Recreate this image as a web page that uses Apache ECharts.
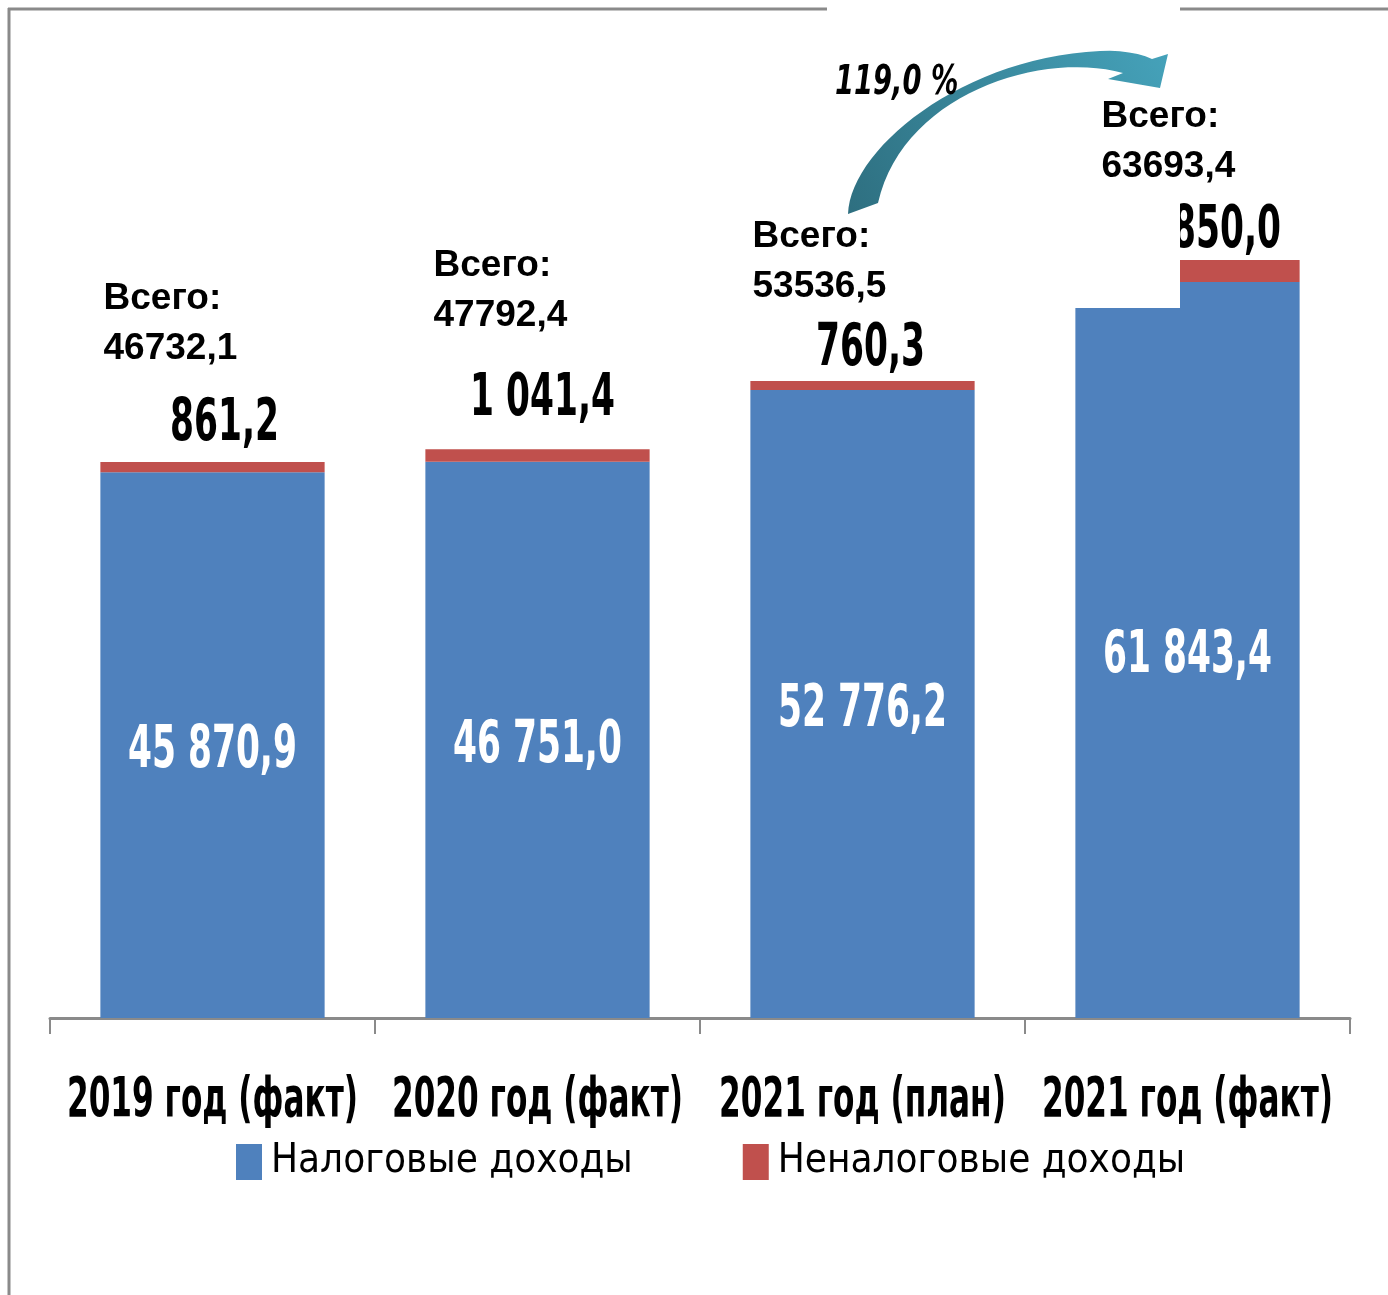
<!DOCTYPE html>
<html>
<head>
<meta charset="utf-8">
<script src="https://cdn.jsdelivr.net/npm/echarts@6/dist/echarts.min.js"></script>
<style>
  html, body { margin: 0; padding: 0; background: #fff; }
  #chart { width: 1388px; height: 1295px; }
</style>
</head>
<body>
<div id="chart"></div>
<script>
// данные
const categories = ['2019 год (факт)', '2020 год (факт)', '2021 год (план)', '2021 год (факт)'];
const taxIncome = [45870.9, 46751.0, 52776.2, 61843.4];
const nonTaxIncome = [861.2, 1041.4, 760.3, 1850.0];
const totals = [46732.1, 47792.4, 53536.5, 63693.4];
const growthText = '119,0 %';

// сдвиги подписей (только раскладка)
const redLabelShift = [[12, -37], [5, -49], [8, -31], [21, -28]];
const totalLabelShift = [[-109, -88], [-104, -108], [-110, -69], [-86, -68]];

const cond = "'DejaVu Sans Condensed', 'DejaVu Sans', sans-serif";
const fmt = v => {
  let s = v.toFixed(1).split('.');
  let int = s[0].replace(/\B(?=(\d{3})+(?!\d))/g, ' ');
  return int + ',' + s[1];
};

// контур изогнутой стрелки (декор)
function cubic(p0, p1, p2, p3, n) {
  let pts = [];
  for (let i = 0; i <= n; i++) {
    let t = i / n, u = 1 - t;
    pts.push([
      u * u * u * p0[0] + 3 * u * u * t * p1[0] + 3 * u * t * t * p2[0] + t * t * t * p3[0],
      u * u * u * p0[1] + 3 * u * u * t * p1[1] + 3 * u * t * t * p2[1] + t * t * t * p3[1]
    ]);
  }
  return pts;
}
const arrowPoints = [].concat(
  cubic([848, 214], [850, 150], [960, 58], [1100, 51], 30),
  cubic([1100, 51], [1120, 50], [1140, 53], [1152, 59], 6),
  [[1168, 54], [1160, 88], [1108, 79]],
  cubic([1123, 73], [1040, 50], [902, 95], [878, 203], 30)
);

// сжатый по ширине текст, как в исходной диаграмме
function squeezed(x, y, text, size, weight, sx, fill) {
  return {
    type: 'text',
    x: x,
    y: y,
    scaleX: sx,
    style: {
      text: text,
      fill: fill || '#000',
      fontFamily: cond,
      fontWeight: weight,
      fontSize: size,
      align: 'center',
      verticalAlign: 'middle'
    }
  };
}

let myChart = echarts.init(document.getElementById('chart'));

const options = {
  animation: false,
  backgroundColor: '#fff',
  grid: { left: 50, right: 38, top: 185, bottom: 277 },
  legend: {
    data: ['Налоговые доходы', 'Неналоговые доходы'],
    left: 231,
    top: 1137,
    itemWidth: 26,
    itemHeight: 36,
    itemGap: 110,
    icon: 'rect',
    textStyle: { fontFamily: cond, fontSize: 40, color: '#000', padding: [0, 0, 0, 4] }
  },
  xAxis: {
    type: 'category',
    data: categories,
    axisLine: { lineStyle: { color: '#8a8a8a', width: 3 } },
    axisTick: { show: true, length: 16, lineStyle: { color: '#8a8a8a', width: 2 } },
    axisLabel: { show: false }
  },
  yAxis: {
    type: 'value',
    min: 0,
    max: 70000,
    show: false,
    splitLine: { show: false }
  },
  series: [
    {
      name: 'Налоговые доходы',
      type: 'bar',
      stack: 'all',
      barWidth: '69%',
      z: 2,
      itemStyle: { color: '#4F81BD' },
      data: taxIncome
    },
    {
      name: 'Неналоговые доходы',
      type: 'bar',
      stack: 'all',
      barWidth: '69%',
      z: 2,
      itemStyle: { color: '#C0504D' },
      data: nonTaxIncome
    },
    {
      // подписи налоговых доходов внутри столбцов
      type: 'custom',
      z: 4,
      clip: false,
      silent: true,
      data: taxIncome.map((v, i) => [i, v]),
      renderItem: (params, api) => {
        let pt = api.coord([api.value(0), api.value(1) / 2]);
        return squeezed(pt[0], pt[1] + 7, fmt(api.value(1)), 58, 'bold', 0.66, '#fff');
      }
    },
    {
      // подписи неналоговых доходов над столбцами
      type: 'custom',
      z: 2,
      clip: false,
      silent: true,
      data: nonTaxIncome.map((v, i) => [i, taxIncome[i] + v, v]),
      renderItem: (params, api) => {
        let i = params.dataIndex;
        let pt = api.coord([api.value(0), api.value(1)]);
        return squeezed(pt[0] + redLabelShift[i][0], pt[1] + redLabelShift[i][1], fmt(api.value(2)), 58, 'bold', 0.66);
      }
    },
    {
      // подписи категорий под осью
      type: 'custom',
      z: 2,
      clip: false,
      silent: true,
      data: categories.map((c, i) => [i, 0]),
      renderItem: (params, api) => {
        let pt = api.coord([api.value(0), 0]);
        return squeezed(pt[0], pt[1] + 84, categories[params.dataIndex], 55, 'bold', 0.63);
      }
    },
    {
      // «Всего»
      type: 'custom',
      z: 5,
      clip: false,
      silent: true,
      data: totals.map((v, i) => [i, v]),
      renderItem: (params, api) => {
        let i = params.dataIndex;
        let pt = api.coord([api.value(0), api.value(1)]);
        return {
          type: 'text',
          x: pt[0] + totalLabelShift[i][0],
          y: pt[1] + totalLabelShift[i][1],
          style: {
            text: 'Всего:\n' + String(api.value(1)).replace('.', ','),
            fill: '#000',
            fontFamily: "'Liberation Sans', sans-serif",
            fontWeight: 'bold',
            fontSize: 37,
            lineHeight: 50,
            align: 'left',
            verticalAlign: 'bottom'
          }
        };
      }
    }
  ],
  graphic: [
    { type: 'line', z: 1, shape: { x1: 9, y1: 8, x2: 9, y2: 1295 }, style: { stroke: '#8a8a8a', lineWidth: 3 } },
    { type: 'line', z: 1, shape: { x1: 8, y1: 9, x2: 1388, y2: 9 }, style: { stroke: '#8a8a8a', lineWidth: 3 } },
    // белая плашка поверх верха диаграммы
    { type: 'rect', z: 3, shape: { x: 827, y: 0, width: 353, height: 308 }, style: { fill: '#fff' } },
    // стрелка роста
    {
      type: 'polygon',
      z: 6,
      shape: { points: arrowPoints },
      style: {
        fill: {
          type: 'linear', x: 0, y: 1, x2: 1, y2: 0,
          colorStops: [
            { offset: 0, color: '#2E6F80' },
            { offset: 1, color: '#45A2BA' }
          ]
        }
      }
    },
    {
      type: 'text',
      z: 6,
      x: 835,
      y: 64,
      scaleX: 0.76,
      style: {
        text: growthText,
        fontFamily: cond,
        fontStyle: 'italic',
        fontWeight: 'bold',
        fontSize: 40,
        fill: '#000'
      }
    }
  ]
};

myChart.setOption(options);
</script>
</body>
</html>
